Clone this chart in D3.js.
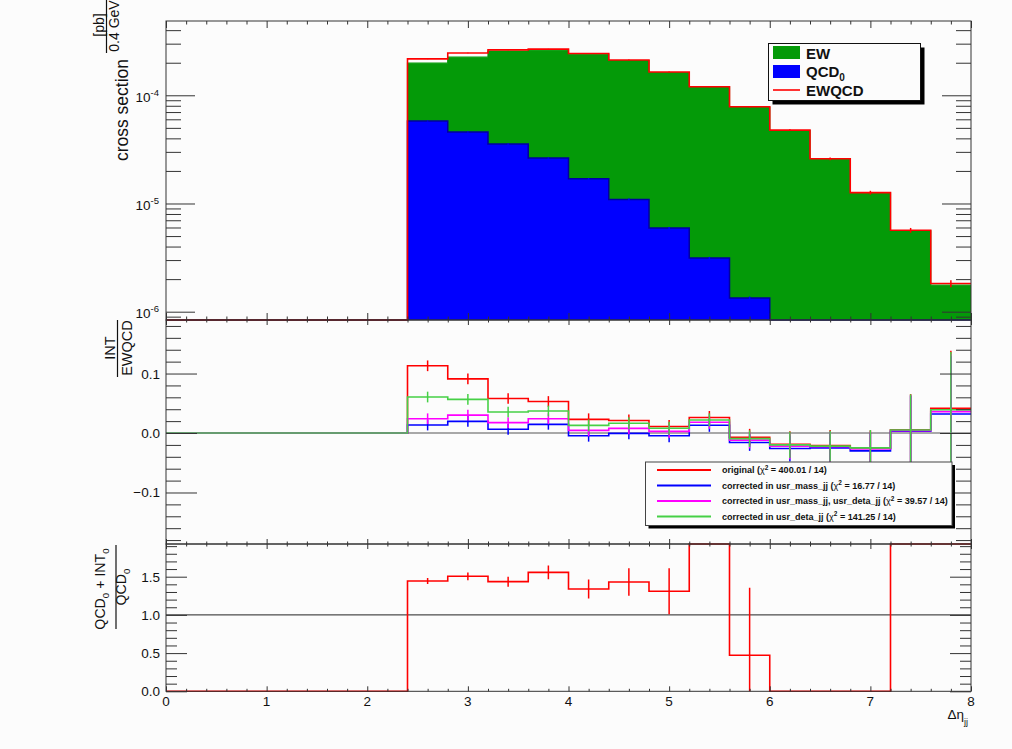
<!DOCTYPE html>
<html>
<head>
<meta charset="utf-8">
<script src="https://cdn.jsdelivr.net/npm/d3@7.9.0/dist/d3.min.js"></script>
<style>
  body { margin: 0; background: #fcfcfc; }
  svg { display: block; }
  text { font-family: "Liberation Sans", Arial, Helvetica, sans-serif; fill: #111; }
</style>
</head>
<body>
<svg id="chart" width="1012" height="749"></svg>
<script>
// bin edges of the delta eta_jj histogram (0.4 wide)
const binEdges = [0, 0.4, 0.8, 1.2, 1.6, 2.0, 2.4, 2.8, 3.2, 3.6, 4.0, 4.4, 4.8, 5.2, 5.6, 6.0, 6.4, 6.8, 7.2, 7.6, 8.0];

// top panel: cross sections [pb / 0.4]
const ew    = [0, 0, 0, 0, 0, 0, 1.98e-4, 2.25e-4, 2.56e-4, 2.61e-4, 2.40e-4, 2.09e-4, 1.62e-4, 1.19e-4, 7.74e-5, 4.71e-5, 2.56e-5, 1.25e-5, 5.60e-6, 1.76e-6];
const qcd0  = [0, 0, 0, 0, 0, 0, 5.78e-5, 4.57e-5, 3.54e-5, 2.63e-5, 1.69e-5, 1.09e-5, 5.94e-6, 3.13e-6, 1.34e-6, 0, 0, 0, 0, 0];
const ewqcd = [0, 0, 0, 0, 0, 0, 2.17e-4, 2.46e-4, 2.63e-4, 2.67e-4, 2.43e-4, 2.12e-4, 1.64e-4, 1.20e-4, 7.84e-5, 4.77e-5, 2.59e-5, 1.26e-5, 5.66e-6, 1.82e-6];
const ewqcdRelErr = [0, 0, 0, 0, 0, 0, 0.006, 0.006, 0.006, 0.006, 0.007, 0.008, 0.01, 0.012, 0.015, 0.02, 0.03, 0.04, 0.05, 0.075];
const qcd0RelErr  = [0, 0, 0, 0, 0, 0, 0.01, 0.01, 0.012, 0.012, 0.015, 0.02, 0.02, 0.025, 0.03, 0, 0, 0, 0, 0];

// middle panel: INT / EWQCD
const intOriginal = [0, 0, 0, 0, 0, 0, 0.113, 0.091, 0.058, 0.053, 0.023, 0.021, 0.011, 0.026, -0.007, -0.019, -0.021, -0.0255, 0.0055, 0.0415];
const intMass     = [0, 0, 0, 0, 0, 0, 0.0134, 0.0196, 0.0062, 0.0146, -0.0045, -0.0006, -0.0045, 0.013, -0.016, -0.026, -0.025, -0.030, 0.003, 0.032];
const intMassDeta = [0, 0, 0, 0, 0, 0, 0.024, 0.030, 0.0174, 0.024, 0.0045, 0.0078, 0.0028, 0.018, -0.012, -0.022, -0.023, -0.027, 0.004, 0.036];
const intDeta     = [0, 0, 0, 0, 0, 0, 0.0605, 0.0566, 0.0353, 0.037, 0.0129, 0.0163, 0.008, 0.022, -0.0095, -0.020, -0.022, -0.025, 0.005, 0.039];
const intErr      = [0, 0, 0, 0, 0, 0, 0.009, 0.009, 0.009, 0.009, 0.01, 0.01, 0.011, 0.011, 0.014, 0.022, 0.026, 0.03, 0.06, 0.097];

// bottom panel: (QCD0 + INT0) / QCD0 (bins with values above 1.93 are off scale)
const ratio    = [0, 0, 0, 0, 0, 0, 1.444, 1.505, 1.435, 1.557, 1.339, 1.43, 1.309, 3.0, 0.471, 0, 0, 0, 3.0, 3.0];
const ratioErr = [0, 0, 0, 0, 0, 0, 0.04, 0.05, 0.065, 0.09, 0.125, 0.18, 0.3, 0, 0.885, 0, 0, 0, 0, 0];

const midLabels = ['original', 'corrected in usr_mass_jj', 'corrected in usr_mass_jj, usr_deta_jj', 'corrected in usr_deta_jj'];
const midChi2 = ['400.01', '16.77', '39.57', '141.25'];
const midNdf = 14;

const xTickLabels = ['0', '1', '2', '3', '4', '5', '6', '7', '8'];
const topTickExps = [-6, -5, -4];
const midTickLabels = [-0.1, 0.0, 0.1];
const botTickLabels = [0.0, 0.5, 1.0, 1.5];

const green = '#049a08', blue = '#0000ff', red = '#ff0000';
const lineGreen = '#46d046', magenta = '#ff00ff';
const tickColor = '#333';

const svg = d3.select('#chart');
const xLeft = 166, xRight = 971;
const top0 = 21, top1 = 320, mid1 = 544, bot1 = 691.3;

const x = d3.scaleLinear().domain([0, 8]).range([xLeft, xRight]);
const yTop = d3.scaleLog().domain([8.38e-7, 4.86e-4]).range([top1, top0]);
const yMid = d3.scaleLinear().domain([-0.1866, 0.19]).range([mid1, top1]).clamp(true);
const yBot = d3.scaleLinear().domain([0, 1.928]).range([bot1, mid1]).clamp(true);

const yLog = v => v > 0 ? Math.max(top0, Math.min(top1, yTop(v))) : top1;

// clip paths for each panel
const defs = svg.append('defs');
[['clipTop', top0, top1], ['clipMid', top1, mid1], ['clipBot', mid1, bot1]].forEach(([id, a, b]) => {
  defs.append('clipPath').attr('id', id).append('rect')
    .attr('x', xLeft).attr('y', a - 1).attr('width', xRight - xLeft).attr('height', b - a + 2);
});

function stepPath(values, yf) {
  const pts = values.map((v, i) => [x(binEdges[i]), yf(v)]);
  pts.push([x(binEdges[values.length]), yf(values[values.length - 1])]);
  return d3.line().curve(d3.curveStepAfter)(pts);
}
function stepArea(values, yf, base) {
  const pts = values.map((v, i) => [x(binEdges[i]), yf(v)]);
  pts.push([x(binEdges[values.length]), yf(values[values.length - 1])]);
  return d3.area().curve(d3.curveStepAfter).x(d => d[0]).y0(base).y1(d => d[1])(pts);
}
function errBars(g, values, errs, yLo, yHi, color) {
  values.forEach((v, i) => {
    if (!errs[i] || v === 0) return;
    const cx = x((binEdges[i] + binEdges[i + 1]) / 2);
    g.append('line').attr('x1', cx).attr('x2', cx)
      .attr('y1', yLo(v, errs[i])).attr('y2', yHi(v, errs[i]))
      .attr('stroke', color).attr('stroke-width', 1.5);
  });
}

// ---------- top panel ----------
const gTop = svg.append('g').attr('clip-path', 'url(#clipTop)');
gTop.append('path').attr('d', stepArea(ew, yLog, top1)).attr('fill', green);
gTop.append('path').attr('d', stepPath(ew, yLog)).attr('fill', 'none').attr('stroke', green).attr('stroke-width', 1.2);
gTop.append('path').attr('d', stepArea(qcd0, yLog, top1)).attr('fill', blue);
gTop.append('path').attr('d', stepPath(qcd0, yLog)).attr('fill', 'none').attr('stroke', '#0000a0').attr('stroke-width', 1.5);
errBars(gTop, qcd0, qcd0RelErr, (v, e) => yLog(v * (1 - e)), (v, e) => yLog(v * (1 + e)), blue);
gTop.append('path').attr('d', stepPath(ewqcd, yLog)).attr('fill', 'none').attr('stroke', red).attr('stroke-width', 1.6);
errBars(gTop, ewqcd, ewqcdRelErr, (v, e) => yLog(v * (1 - e)), (v, e) => yLog(v * (1 + e)), red);

// ---------- middle panel ----------
const gMid = svg.append('g').attr('clip-path', 'url(#clipMid)');
gMid.append('line').attr('x1', xLeft).attr('x2', xRight).attr('y1', yMid(0)).attr('y2', yMid(0))
  .attr('stroke', '#555').attr('stroke-width', 1);
const midSeries = [[intOriginal, red], [intMass, blue], [intMassDeta, magenta], [intDeta, lineGreen]];
midSeries.forEach(([vals, color]) => {
  gMid.append('path').attr('d', stepPath(vals, yMid)).attr('fill', 'none').attr('stroke', color).attr('stroke-width', 1.6);
  errBars(gMid, vals, intErr, (v, e) => yMid(v - e), (v, e) => yMid(v + e), color);
});

// ---------- bottom panel ----------
const gBot = svg.append('g').attr('clip-path', 'url(#clipBot)');
gBot.append('line').attr('x1', xLeft).attr('x2', xRight).attr('y1', yBot(1)).attr('y2', yBot(1))
  .attr('stroke', '#222').attr('stroke-width', 1);
gBot.append('path').attr('d', stepPath(ratio, yBot)).attr('fill', 'none').attr('stroke', red).attr('stroke-width', 1.6);
errBars(gBot, ratio, ratioErr, (v, e) => yBot(v - e), (v, e) => yBot(v + e), red);

// ---------- frames and ticks ----------
[[top0, top1], [top1, mid1], [mid1, bot1]].forEach(([a, b]) => {
  svg.append('rect').attr('x', xLeft).attr('y', a).attr('width', xRight - xLeft).attr('height', b - a)
    .attr('fill', 'none').attr('stroke', '#333').attr('stroke-width', 1);
});

const xMajor = d3.range(0, 9);
const xMinor = d3.range(0, 41).map(d => d / 5).filter(d => d % 1 !== 0);

function xTicks(yPos, down, majorLen, minorLen) {
  const axisFn = down ? d3.axisBottom : d3.axisTop;
  [[xMajor, majorLen], [xMinor, minorLen]].forEach(([vals, len]) => {
    svg.append('g').attr('transform', `translate(0,${yPos})`).attr('color', tickColor)
      .call(axisFn(x).tickValues(vals).tickSize(len).tickSizeOuter(0).tickFormat(''))
      .call(g => g.select('.domain').remove());
  });
}
function yTicks(scale, major, minor, majorLen, minorLen) {
  [[d3.axisRight, xLeft], [d3.axisLeft, xRight]].forEach(([axisFn, xp]) => {
    [[major, majorLen], [minor, minorLen]].forEach(([vals, len]) => {
      svg.append('g').attr('transform', `translate(${xp},0)`).attr('color', tickColor)
        .call(axisFn(scale).tickValues(vals).tickSize(len).tickSizeOuter(0).tickFormat(''))
        .call(g => g.select('.domain').remove());
    });
  });
}

xTicks(top0, true, 7, 3.5);
xTicks(top1, false, 7, 3.5);
xTicks(top1, true, 5, 2.5);
xTicks(mid1, false, 5, 2.5);
xTicks(mid1, true, 5, 2.5);
xTicks(bot1, false, 5, 2.5);

const logMajor = topTickExps.map(e => Math.pow(10, e));
const logMinor = [];
[-7, -6, -5, -4].forEach(e => d3.range(2, 10).forEach(m => {
  const v = m * Math.pow(10, e);
  if (v > 8.38e-7 && v < 4.86e-4) logMinor.push(v);
}));
yTicks(yTop, logMajor, logMinor, 29, 15);

const midMinor = d3.range(-9, 10).map(d => d * 0.02).filter(d => Math.abs(d * 10 - Math.round(d * 10)) > 1e-6);
yTicks(yMid, midTickLabels, midMinor, 31, 15);

const botMinor = d3.range(1, 20).map(d => d / 10).filter(d => d % 0.5 > 1e-6 && 0.5 - (d % 0.5) > 1e-6);
yTicks(yBot, botTickLabels, botMinor, 21, 11);

// ---------- tick labels ----------
topTickExps.forEach(e => {
  const t = svg.append('text').attr('x', 159).attr('y', yTop(Math.pow(10, e)) + 6.5)
    .attr('text-anchor', 'end').attr('font-size', 13.5);
  t.append('tspan').text('10');
  t.append('tspan').attr('dy', -6).attr('font-size', 9.5).text(String(e));
});
midTickLabels.forEach(v => {
  svg.append('text').attr('x', 160).attr('y', yMid(v) + 5).attr('text-anchor', 'end')
    .attr('font-size', 13.5).text(d3.format('.1f')(v));
});
botTickLabels.forEach(v => {
  svg.append('text').attr('x', 160).attr('y', yBot(v) + 5).attr('text-anchor', 'end')
    .attr('font-size', 13.5).text(d3.format('.1f')(v));
});
xTickLabels.forEach((lab, i) => {
  svg.append('text').attr('x', x(xMajor[i])).attr('y', 706).attr('text-anchor', 'middle')
    .attr('font-size', 13.5).text(lab);
});

// x axis title
const xt = svg.append('text').attr('x', 968).attr('y', 719).attr('text-anchor', 'end').attr('font-size', 13.5);
xt.append('tspan').text('\u0394\u03b7');
xt.append('tspan').attr('dy', 6).attr('font-size', 9).text('jj');

// ---------- y axis titles (rotated) ----------
function vText(xp, yc, str, size, weight) {
  return svg.append('text').attr('transform', `translate(${xp},${yc}) rotate(-90)`)
    .attr('text-anchor', 'middle').attr('font-size', size).attr('font-weight', weight || 'normal').text(str);
}
function vBar(xp, ya, yb) {
  svg.append('line').attr('x1', xp).attr('x2', xp).attr('y1', ya).attr('y2', yb).attr('stroke', '#111').attr('stroke-width', 1.2);
}
// top
vText(128, 110, 'cross section', 17.5);
vText(104, 25, '[pb]', 14);
vBar(106.5, 0, 53);
vText(118.5, 26, '0.4 GeV', 14);
// middle
vText(115, 348, 'INT', 14.5);
vBar(117.5, 320, 377);
vText(131.5, 348, 'EWQCD', 14.5);
// bottom: numerator with subscripts
function vSubText(xp, yc, parts, size) {
  const t = svg.append('text').attr('transform', `translate(${xp},${yc}) rotate(-90)`)
    .attr('text-anchor', 'middle').attr('font-size', size);
  parts.forEach(([s, sub]) => {
    if (sub) t.append('tspan').attr('dy', 4).attr('font-size', size * 0.68).text(s);
    else t.append('tspan').attr('dy', t.selectAll('tspan').size() ? -4 : 0).text(s);
  });
  return t;
}
vSubText(109, 589, [['QCD'], ['0', true], [' + INT'], ['0', true]], 14.2);
vBar(116, 545, 629);
vSubText(129.5, 587, [['QCD'], ['0', true]], 14.2);

// ---------- legends ----------
// top legend
const lg = svg.append('g');
lg.append('rect').attr('x', 772.5).attr('y', 47.5).attr('width', 152).attr('height', 57).attr('fill', '#000');
lg.append('rect').attr('x', 768.5).attr('y', 43.5).attr('width', 152).attr('height', 57)
  .attr('fill', '#fcfcfc').attr('stroke', '#111').attr('stroke-width', 1);
lg.append('rect').attr('x', 773).attr('y', 46).attr('width', 27).attr('height', 13).attr('fill', green);
lg.append('text').attr('x', 806).attr('y', 59).attr('font-size', 15).attr('font-weight', 'bold').text('EW');
lg.append('rect').attr('x', 773).attr('y', 65).attr('width', 27).attr('height', 13).attr('fill', blue);
const qt = lg.append('text').attr('x', 806).attr('y', 77).attr('font-size', 15).attr('font-weight', 'bold');
qt.append('tspan').text('QCD');
qt.append('tspan').attr('dy', 4).attr('font-size', 10).text('0');
lg.append('line').attr('x1', 773).attr('x2', 800).attr('y1', 90).attr('y2', 90).attr('stroke', red).attr('stroke-width', 1.6);
lg.append('text').attr('x', 806).attr('y', 95.5).attr('font-size', 15).attr('font-weight', 'bold').text('EWQCD');

// middle legend
const ml = svg.append('g');
ml.append('rect').attr('x', 648.5).attr('y', 465).attr('width', 306.5).attr('height', 63.5).attr('fill', '#000');
ml.append('rect').attr('x', 645.5).attr('y', 462).attr('width', 306.5).attr('height', 63.5)
  .attr('fill', '#fcfcfc').attr('stroke', '#444').attr('stroke-width', 1);
const rowY = [470, 485.5, 501, 516.5];
midSeries.forEach(([vals, color], i) => {
  ml.append('line').attr('x1', 657).attr('x2', 711).attr('y1', rowY[i]).attr('y2', rowY[i])
    .attr('stroke', color).attr('stroke-width', 1.8);
  const t = ml.append('text').attr('x', 722).attr('y', rowY[i] + 3.3).attr('font-size', 9).attr('font-weight', 'bold');
  t.append('tspan').text(midLabels[i] + ' (');
  t.append('tspan').attr('font-weight', 'normal').text('\u03c7');
  t.append('tspan').attr('dy', -3.5).attr('font-size', 6.5).text('2');
  t.append('tspan').attr('dy', 3.5).text(` = ${midChi2[i]} / ${midNdf})`);
});
</script>
</body>
</html>
